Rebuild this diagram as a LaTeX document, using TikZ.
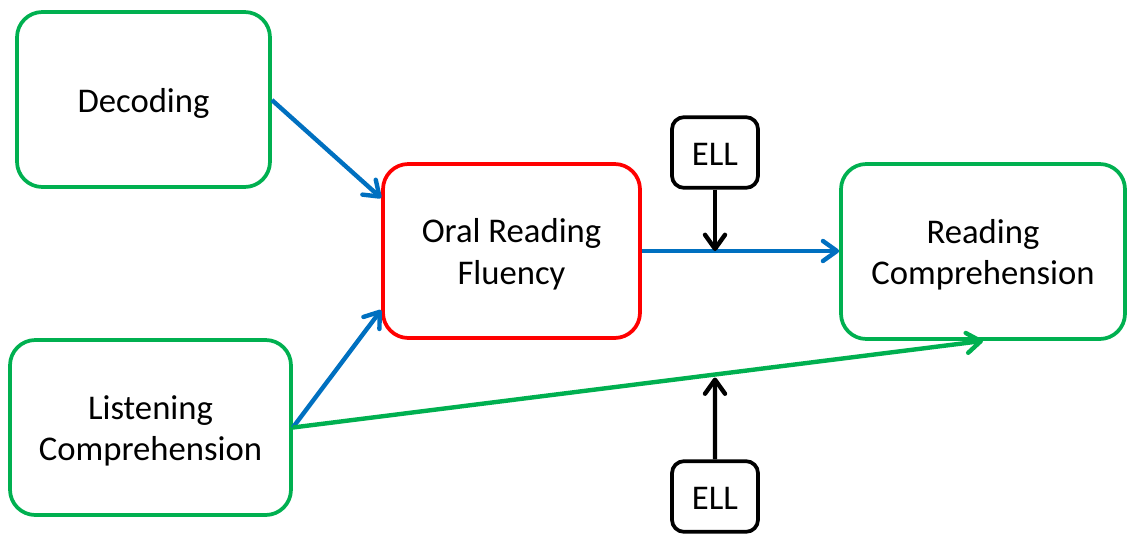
\documentclass[tikz,border=0pt]{standalone}
\usepackage{fontspec}
\setmainfont{Carlito}
\usetikzlibrary{arrows.meta,calc,intersections}
\definecolor{boxgreen}{RGB}{0,176,80}
\definecolor{linkblue}{RGB}{0,112,192}
\definecolor{focusred}{RGB}{255,0,0}
% fixed struts so every label sits at the same height in its box
\newcommand\hiStrut{\rule{0pt}{24pt}}
\newcommand\loStrut{\rule[-5pt]{0pt}{5pt}}
\begin{document}
\begin{tikzpicture}[x=0.75pt,y=-0.75pt,
  every node/.style={font=\fontsize{26}{31.2}\selectfont, align=center, inner sep=0pt},
  bigbox/.style={draw, line width=2.8pt, rounded corners=19pt, fill=white},
  greenbox/.style={bigbox, draw=boxgreen},
  redbox/.style={bigbox, draw=focusred},
  ellbox/.style={draw=black, line width=2.8pt, rounded corners=9pt,
    minimum width=64.5pt, minimum height=53pt},
  tip/.style={-{Straight Barb[length=10.5pt,width=15pt,round]}, line width=3.3pt},
  bluelink/.style={tip, draw=linkblue},
  greenlink/.style={tip, draw=boxgreen},
  elllink/.style={tip, draw=black}]
\useasboundingbox (0,0) rectangle (1127,533);

% construct boxes
\node[greenbox, minimum width=189.75pt, minimum height=131.25pt] (dec) at (143.5,99.5)
  {\hiStrut Decoding\loStrut};
\node[redbox, minimum width=192.75pt, minimum height=130.5pt] (orf) at (511.5,251)
  {\hiStrut Oral Reading\\Fluency\loStrut};
\node[greenbox, minimum width=213pt, minimum height=131.25pt] (rc) at (983,251.5)
  {\hiStrut Reading\\Comprehension\loStrut};
\node[greenbox, minimum width=210.75pt, minimum height=131.25pt] (lc) at (150.5,427.5)
  {\hiStrut Listening\\Comprehension\loStrut};

% moderator boxes
\node[ellbox] (ellA) at (715,152.5) {\hiStrut ELL\loStrut};
\node[ellbox] (ellB) at (715,496.5) {\hiStrut ELL\loStrut};

% paths into fluency and comprehension
\draw[bluelink] ($(dec.east)+(0,0.5)$) -- ($(orf.west)+(0,-53)$);
\draw[bluelink] (lc.east) -- ($(orf.west)+(0,59)$);
\draw[bluelink] (orf.east) -- (orf.east -| rc.west);
\draw[greenlink, name path=direct] (lc.east) -- (rc.south);

% moderation by ELL status
\draw[elllink] (ellA.south) -- (ellA.south |- orf.east);
\path[name path=vert] (ellB.north) -- ++(0,-200);
\draw[elllink, name intersections={of=direct and vert, by=hit}] (ellB.north) -- ($(hit)+(0,3)$);
\end{tikzpicture}
\end{document}
